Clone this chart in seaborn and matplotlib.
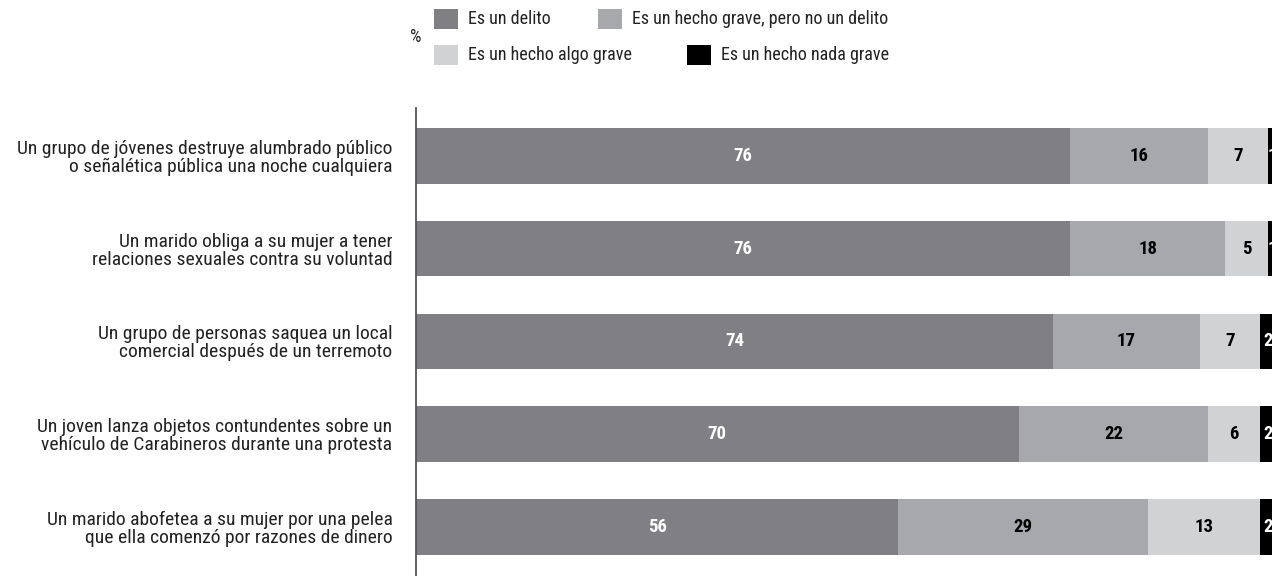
import matplotlib
matplotlib.use("Agg")
import matplotlib.pyplot as plt
import seaborn as sns
import numpy as np
import pandas as pd
from matplotlib.patches import Rectangle
from matplotlib import font_manager

categories = [
    "Un grupo de jóvenes destruye alumbrado público\no señalética pública una noche cualquiera",
    "Un marido obliga a su mujer a tener\nrelaciones sexuales contra su voluntad",
    "Un grupo de personas saquea un local\ncomercial después de un terremoto",
    "Un joven lanza objetos contundentes sobre un\nvehículo de Carabineros durante una protesta",
    "Un marido abofetea a su mujer por una pelea\nque ella comenzó por razones de dinero",
]
series_names = ["Es un delito", "Es un hecho grave, pero no un delito",
                "Es un hecho algo grave", "Es un hecho nada grave"]
delito = [76, 76, 74, 70, 56]
grave = [16, 18, 17, 22, 29]
algo = [7, 5, 7, 6, 13]
nada = [1, 1, 2, 2, 2]

colors = ["#808084", "#a7a8ab", "#d1d2d4", "#000000"]
label_colors = ["white", "black", "black", "white"]

names = {f.name for f in font_manager.fontManager.ttflist}
fam = "Liberation Sans"
for cand in ["Liberation Sans Narrow", "Roboto Condensed", "Open Sans Condensed", "DejaVu Sans Condensed"]:
    if cand in names:
        fam = cand
        break

sns.set_theme(style="white")
plt.rcParams['font.family'] = [fam, 'DejaVu Sans']

fig = plt.figure(figsize=(12.72, 5.76), dpi=100)
ax = fig.add_axes([416/1272, 0, (1277-416)/1272, 1 - 108/576])

series = [delito, grave, algo, nada]
cum = np.cumsum(np.array(series), axis=0)
df = pd.DataFrame({"cat": categories})
for i in range(3, -1, -1):
    df["v"] = cum[i]
    sns.barplot(data=df, x="v", y="cat", orient="h", color=colors[i],
                saturation=1, width=0.6, ax=ax, edgecolor="none", linewidth=0)

for i in range(4):
    for j in range(len(categories)):
        start = cum[i][j] - series[i][j]
        ax.text(start + series[i][j] / 2, j, str(series[i][j]), ha="center", va="center",
                color=label_colors[i], fontsize=13.5, fontweight="bold", clip_on=False)

ax.set_xlim(0, 100)
ax.set_ylim(4.53, -0.517)
ax.set_xlabel("")
ax.set_ylabel("")
ax.set_xticks([])
ax.tick_params(axis="y", length=0, pad=17, labelsize=14, colors="#222222")
for lab in ax.get_yticklabels():
    lab.set_multialignment("right")
    lab.set_linespacing(1.0)
for s in ["top", "right", "bottom"]:
    ax.spines[s].set_visible(False)
ax.spines["left"].set_color("#555555")
ax.spines["left"].set_linewidth(1.3)

# legend drawn manually
W, H = 1272, 576
def legend_item(x, y, color, text):
    fig.patches.append(Rectangle((x / W, 1 - (y + 20) / H), 24 / W, 20 / H,
                                 transform=fig.transFigure, facecolor=color, edgecolor="none"))
    fig.text((x + 34) / W, 1 - (y + 10) / H, text, ha="left", va="center",
             fontsize=13, color="#222222")

legend_item(434, 9, colors[0], series_names[0])
legend_item(598, 9, colors[1], series_names[1])
legend_item(434, 45, colors[2], series_names[2])
legend_item(687, 45, colors[3], series_names[3])
fig.text(416 / W, 1 - 37 / H, "%", ha="center", va="center", fontsize=13, color="#222222")

fig.savefig("out.png", dpi=100)
